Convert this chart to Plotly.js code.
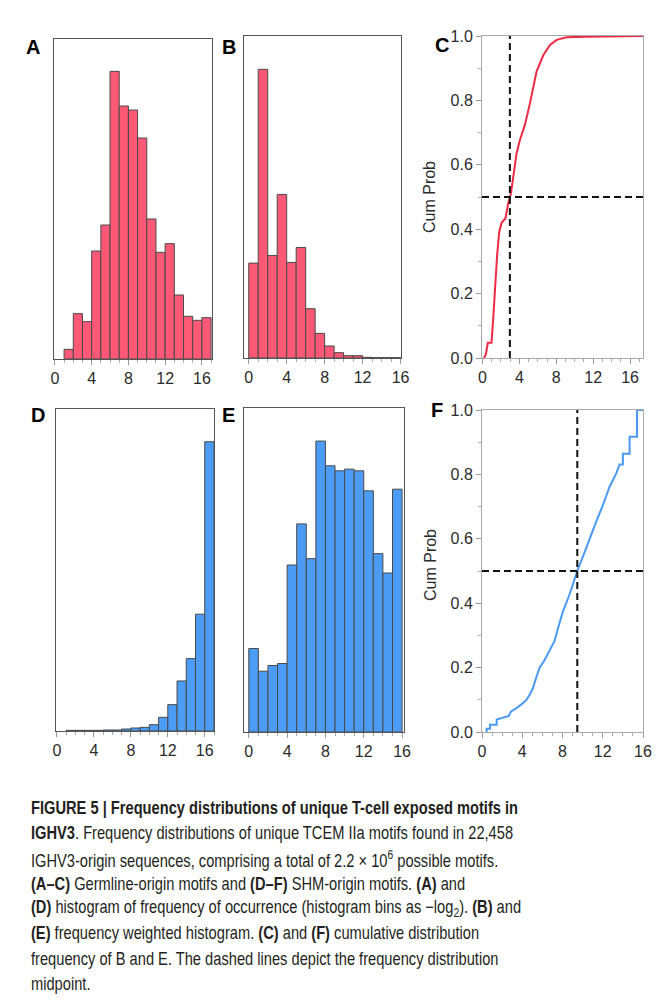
<!DOCTYPE html>
<html>
<head>
<meta charset="utf-8">
<script src="https://cdn.plot.ly/plotly-3.0.1.min.js"></script>
<style>
html,body{margin:0;padding:0;background:#fff;}
#chart{width:671px;height:1003px;}
</style>
</head>
<body>
<div id="chart"></div>
<script>
// ---- Data ----
// Panel A: germline-origin histogram (bin left edges, heights in arbitrary units)
const aBins = [1,2,3,4,5,6,7,8,9,10,11,12,13,14,15,16];
const aValues = [29,136,112,324,402,863,759,747,663,420,320,346,192,128,116,124];
// Panel B: germline-origin frequency-weighted histogram
const bBins = [0,1,2,3,4,5,6,7,8,9,10,11,12,13,14,15];
const bValues = [285,867,308,491,287,332,148,74,36,16,7,7,2,1,1,1];
// Panel C: cumulative distribution of B
const cX = [0.15,0.36,0.58,0.98,1.16,1.41,1.59,1.81,2.07,2.5,2.79,3.08,3.33,3.7,4.06,4.6,5.14,5.87,6.59,7.32,8.04,9.13,11.3,17.5];
const cY = [0,0.01,0.047,0.047,0.12,0.26,0.32,0.39,0.42,0.434,0.48,0.51,0.56,0.636,0.677,0.724,0.79,0.89,0.94,0.972,0.988,0.996,0.998,1.0];
const cMid = 2.97;
// Panel D: SHM-origin histogram
const dBins = [1,2,3,4,5,6,7,8,9,10,11,12,13,14,15,16];
const dValues = [2,2,2,2,3,3,6,9,11,19,41,79,150,217,350,867];
// Panel E: SHM-origin frequency-weighted histogram
const eBins = [0,1,2,3,4,5,6,7,8,9,10,11,12,13,14,15];
const eValues = [250,182,199,205,500,623,519,871,797,782,787,782,722,534,476,727];
// Panel F: cumulative distribution of E
const fX = [0.4,0.46,0.46,0.8,0.8,1.46,1.46,2.06,2.66,2.89,3.39,3.88,4.38,4.71,5.05,5.38,5.71,6.21,6.71,7.2,7.54,8.03,8.7,9.46,10.02,10.69,11.35,12.02,12.68,13.01,13.34,13.68,14.0,14.0,14.67,14.67,15.4,15.4,16.0];
const fY = [0,0,0.0104,0.0104,0.0228,0.0228,0.039,0.0435,0.05,0.064,0.073,0.085,0.098,0.114,0.135,0.168,0.199,0.223,0.251,0.282,0.321,0.373,0.427,0.4995,0.544,0.601,0.653,0.705,0.762,0.782,0.803,0.831,0.831,0.864,0.864,0.917,0.917,1.0,1.0];
const fMid = 9.47;
const xTicks = [0,4,8,12,16];
const yTicksCum = [0,0.2,0.4,0.6,0.8,1.0];
const yTickLabelsCum = ['0.0','0.2','0.4','0.6','0.8','1.0'];
const panelLetters = ['A','B','C','D','E','F'];

// ---- Styles ----
const W = 671, H = 1003;
const px = v => v / W;
const py = v => 1 - v / H;
const RED = '#fd5875', BLUE = '#4c9cf6', BAR_LINE = '#4a4a4a';
const tickFont = {family:'Liberation Sans, Arial, sans-serif', size:16, color:'#2b2b2b'};

function histX(domain, range, anchor){
  return {domain:domain, range:range, anchor:anchor, showgrid:false, zeroline:false,
    showline:true, mirror:true, linecolor:'#555', linewidth:1,
    tickmode:'array', tickvals:xTicks, ticks:'outside', ticklen:5, tickcolor:'#999',
    minor:{dtick:1, ticks:'outside', ticklen:3, tickcolor:'#aaa', showgrid:false},
    tickfont:tickFont, fixedrange:true};
}
function histY(domain, range, anchor){
  return {domain:domain, range:range, anchor:anchor, showgrid:false, zeroline:false,
    showline:true, mirror:true, linecolor:'#555', linewidth:1, showticklabels:false, ticks:'',
    tickmode:'array', tickvals:[], fixedrange:true};
}
function cumX(domain, range, anchor){
  return {domain:domain, range:range, anchor:anchor, showgrid:false, zeroline:false,
    showline:true, mirror:true, linecolor:'#aaa', linewidth:1,
    tickmode:'array', tickvals:xTicks, ticks:'outside', ticklen:5, tickcolor:'#999',
    minor:{dtick:1, ticks:'outside', ticklen:3, tickcolor:'#aaa', showgrid:false},
    tickfont:tickFont, fixedrange:true};
}
function cumY(domain, anchor){
  return {domain:domain, range:[0,1], anchor:anchor, showgrid:false, zeroline:false,
    showline:true, mirror:true, linecolor:'#aaa', linewidth:1,
    tickmode:'array', tickvals:yTicksCum, ticktext:yTickLabelsCum, ticks:'outside', ticklen:5, tickcolor:'#999',
    minor:{dtick:0.1, ticks:'outside', ticklen:3, tickcolor:'#aaa', showgrid:false},
    tickfont:tickFont, fixedrange:true};
}

function bars(x, y, color, xa, ya){
  return {type:'bar', x:x, y:y, offset:0, width:1, xaxis:xa, yaxis:ya,
    marker:{color:color, line:{color:BAR_LINE, width:1}}, hoverinfo:'skip', showlegend:false};
}
function line(x, y, color, xa, ya){
  return {type:'scatter', mode:'lines', x:x, y:y, xaxis:xa, yaxis:ya,
    line:{color:color, width:2}, hoverinfo:'skip', showlegend:false};
}
function dash(x, y, xa, ya){
  return {type:'scatter', mode:'lines', x:x, y:y, xaxis:xa, yaxis:ya,
    line:{color:'#111', width:2, dash:'7px,4px'}, hoverinfo:'skip', showlegend:false};
}

const cRange = [-0.05, 17.4];
const fRange = [0, 16];
const data = [
  bars(aBins, aValues, RED, 'x', 'y'),
  bars(bBins, bValues, RED, 'x2', 'y2'),
  line(cX, cY, '#ee2a45', 'x3', 'y3'),
  dash([cMid, cMid], [0, 1], 'x3', 'y3'),
  dash([cRange[0], cRange[1]], [0.5, 0.5], 'x3', 'y3'),
  bars(dBins, dValues, BLUE, 'x4', 'y4'),
  bars(eBins, eValues, BLUE, 'x5', 'y5'),
  line(fX, fY, '#4a9af5', 'x6', 'y6'),
  dash([fMid, fMid], [0, 1], 'x6', 'y6'),
  dash([fRange[0], fRange[1]], [0.5, 0.5], 'x6', 'y6')
];

const layout = {
  width:W, height:H, margin:{l:0,r:0,t:0,b:0}, paper_bgcolor:'#fff', plot_bgcolor:'#fff',
  showlegend:false, bargap:0,
  xaxis: histX([px(54),px(212)], [-0.1,17.1], 'y'),
  yaxis: histY([py(359),py(39)], [0,960], 'x'),
  xaxis2: histX([px(244),px(401)], [-0.5,16.05], 'y2'),
  yaxis2: histY([py(358),py(36)], [0,967], 'x2'),
  xaxis3: cumX([px(482),px(643)], cRange, 'y3'),
  yaxis3: cumY([py(358),py(36)], 'x3'),
  xaxis4: histX([px(56),px(214)], [-0.1,17.0], 'y4'),
  yaxis4: histY([py(731),py(409)], [0,965], 'x4'),
  xaxis5: histX([px(244),px(404)], [-0.5,16.2], 'y5'),
  yaxis5: histY([py(732),py(408)], [0,970], 'x5'),
  xaxis6: cumX([px(482),px(643)], fRange, 'y6'),
  yaxis6: cumY([py(732),py(410)], 'x6'),
  annotations: []
};

const letterPos = [[33,47],[229,47],[442,45],[38,415],[228,415],[437,410]];
panelLetters.forEach((L,i)=>{
  layout.annotations.push({text:'<b>'+L+'</b>', xref:'paper', yref:'paper',
    x:px(letterPos[i][0]), y:py(letterPos[i][1]), xanchor:'center', yanchor:'middle', showarrow:false,
    font:{family:'Liberation Sans, Arial, sans-serif', size:20, color:'#000'}});
});
[[430,197],[430,565]].forEach(p=>{
  layout.annotations.push({text:'Cum Prob', xref:'paper', yref:'paper', x:px(p[0]), y:py(p[1]),
    xanchor:'center', yanchor:'middle', textangle:-90, showarrow:false,
    font:{family:'Liberation Sans, Arial, sans-serif', size:16, color:'#2b2b2b'}});
});

const captionLines = [
  '<b>FIGURE 5 | Frequency distributions of unique T-cell exposed motifs in</b>',
  '<b>IGHV3</b>. Frequency distributions of unique TCEM IIa motifs found in 22,458',
  'IGHV3-origin sequences, comprising a total of 2.2 × 10<sup>6</sup> possible motifs.',
  '<b>(A–C)</b> Germline-origin motifs and <b>(D–F)</b> SHM-origin motifs. <b>(A)</b> and',
  '<b>(D)</b> histogram of frequency of occurrence (histogram bins as −log<sub>2</sub>). <b>(B)</b> and',
  '<b>(E)</b> frequency weighted histogram. <b>(C)</b> and <b>(F)</b> cumulative distribution',
  'frequency of B and E. The dashed lines depict the frequency distribution',
  'midpoint.'
];
const captionY = [808,833,859,884,908,933,959,984];
const captionStart = layout.annotations.length;
captionLines.forEach((t,i)=>{
  layout.annotations.push({text:t, xref:'paper', yref:'paper', x:px(29), y:py(captionY[i]),
    xanchor:'left', yanchor:'middle', align:'left', showarrow:false,
    font:{family:'Liberation Sans, Arial, sans-serif', size:18, color:'#231f20'}});
});

Plotly.newPlot('chart', data, layout, {displayModeBar:false, staticPlot:true}).then(gd=>{
  // condense the caption text horizontally (the reference uses a condensed typeface)
  const texts = gd.querySelectorAll('.annotation .annotation-text');
  texts.forEach((el, idx)=>{
    if (idx >= captionStart) {
      el.style.transformBox = 'fill-box';
      el.style.transformOrigin = 'left center';
      el.style.transform = 'scaleX(0.815)';
    }
  });
});
</script>
</body>
</html>
